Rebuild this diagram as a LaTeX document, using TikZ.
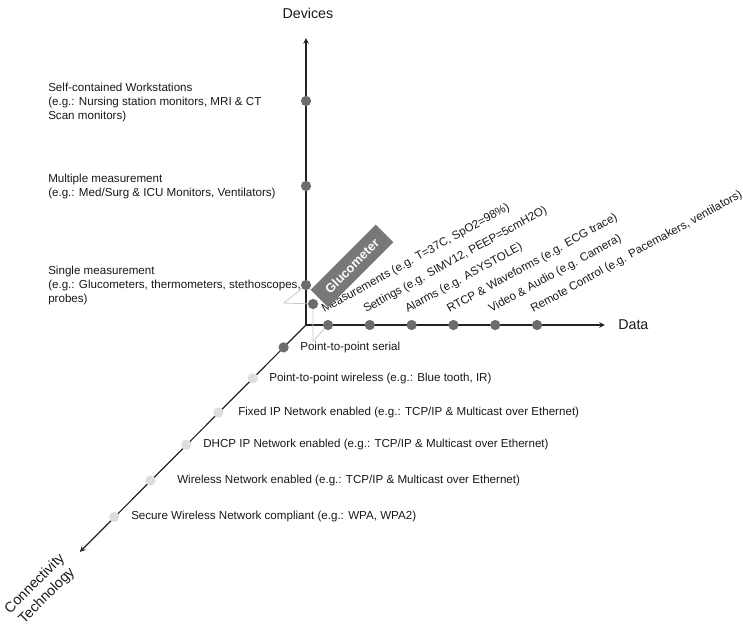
\documentclass[tikz,border=0pt]{standalone}
\usepackage{fontspec}
\setmainfont{Liberation Sans}
\usepackage{tikz}
\usetikzlibrary{arrows,positioning}
\definecolor{axisdark}{RGB}{35,35,35}
\definecolor{dotdark}{RGB}{108,108,112}
\definecolor{dotlight}{RGB}{222,222,222}
\definecolor{guidegray}{RGB}{200,200,200}
\definecolor{boxgray}{RGB}{120,120,120}

\begin{document}
\begin{tikzpicture}[
    axis/.style={->, >=stealth, line width=0.9pt, draw=axisdark},
    dot/.style={circle, fill=dotdark, minimum size=0.27cm, inner sep=0pt},
    lightdot/.style={circle, fill=dotlight, minimum size=0.27cm, inner sep=0pt},
    guide/.style={draw=guidegray, line width=0.6pt},
    txt/.style={font=\fontsize{8.7}{10.5}\selectfont, inner sep=0pt, text=black!90},
    lbl/.style={txt, align=left, anchor=west},
    datalbl/.style={txt, anchor=base west, rotate=29},
    axislbl/.style={font=\fontsize{10.7}{12.8}\selectfont, inner sep=0pt, align=center, text=black!90},
    tag/.style={fill=boxgray, text=white, font=\bfseries\fontsize{9.5}{11}\selectfont, minimum width=2.425cm, minimum height=0.66cm, inner sep=0pt}
]
    \useasboundingbox (-8.066,-7.961) rectangle (11.519,8.567);

    % axes
    \coordinate (o) at (0,0);
    \coordinate (devend) at (0,7.565);
    \coordinate (dataend) at (7.88,0);
    \coordinate (connend) at (-5.96,-5.98);
    \draw[axis] (o) -- (devend);
    \draw[axis] (o) -- (dataend);
    \draw[axis] (o) -- (connend);
    \node[axislbl] (devlbl) at (0.05,8.224) {Devices};
    \node[axislbl, anchor=west] (datalbl) at (8.224,0) {Data};
    \node[axislbl, rotate=45] (connlbl) at (-6.985,-6.985) {Connectivity\\Technology};

    % devices
    \node[dot] (dev1) at (0,1.054) {};
    \node[dot] (dev2) at (0,3.664) {};
    \node[dot] (dev3) at (0,5.905) {};
    \node[lbl] (devlbl1) at (-6.801,1.03) {Single measurement\\(e.g.: Glucometers, thermometers, stethoscopes,\\probes)};
    \node[lbl] (devlbl2) at (-6.801,3.664) {Multiple measurement\\(e.g.: Med/Surg \& ICU Monitors, Ventilators)};
    \node[lbl] (devlbl3) at (-6.801,5.878) {Self-contained Workstations\\(e.g.: Nursing station monitors, MRI \& CT\\Scan monitors)};

    % data
    \node[dot] (dat1) at (0.58,0) {};
    \node[dot] (dat2) at (1.682,0) {};
    \node[dot] (dat3) at (2.784,0) {};
    \node[dot] (dat4) at (3.886,0) {};
    \node[dot] (dat5) at (4.988,0) {};
    \node[dot] (dat6) at (6.09,0) {};
    \node[datalbl] (datlbl1) at (0.475,0.316) {Measurements (e.g. T=37C, SpO2=98\%)};
    \node[datalbl] (datlbl2) at (1.577,0.316) {Settings (e.g. SIMV12, PEEP=5cmH2O)};
    \node[datalbl] (datlbl3) at (2.679,0.316) {Alarms (e.g. ASYSTOLE)};
    \node[datalbl] (datlbl4) at (3.781,0.316) {RTCP \& Waveforms (e.g. ECG trace)};
    \node[datalbl] (datlbl5) at (4.883,0.316) {Video \& Audio (e.g. Camera)};
    \node[datalbl] (datlbl6) at (5.985,0.316) {Remote Control (e.g. Pacemakers, ventilators)};

    % connectivity
    \node[dot] (con1) at (-0.59,-0.59) {};
    \node[lightdot] (con2) at (-1.40,-1.40) {};
    \node[lightdot] (con3) at (-2.31,-2.31) {};
    \node[lightdot] (con4) at (-3.16,-3.16) {};
    \node[lightdot] (con5) at (-4.10,-4.10) {};
    \node[lightdot] (con6) at (-5.06,-5.06) {};
    \node[lbl] (conlbl1) at (-0.158,-0.59) {Point-to-point serial};
    \node[lbl] (conlbl2) at (-0.975,-1.40) {Point-to-point wireless (e.g.: Blue tooth, IR)};
    \node[lbl] (conlbl3) at (-1.792,-2.31) {Fixed IP Network enabled (e.g.: TCP/IP \& Multicast over Ethernet)};
    \node[lbl] (conlbl4) at (-2.715,-3.16) {DHCP IP Network enabled (e.g.: TCP/IP \& Multicast over Ethernet)};
    \node[lbl] (conlbl5) at (-3.400,-4.10) {Wireless Network enabled (e.g.: TCP/IP \& Multicast over Ethernet)};
    \node[lbl] (conlbl6) at (-4.613,-5.06) {Secure Wireless Network compliant (e.g.: WPA, WPA2)};

    % glucometer point
    \node[dot] (gluc) at (0.185,0.554) {};
    \coordinate (gh1) at (-0.58,0.58);
    \coordinate (gh2) at (0.185,-0.42);
    \draw[guide] (dev1) -- (gh1) -- (gluc);
    \draw[guide] (dat1) -- (gh2) -- (gluc);
    \node[tag, rotate=45] (gtag) at (1.213,1.555) {Glucometer};
\end{tikzpicture}
\end{document}
